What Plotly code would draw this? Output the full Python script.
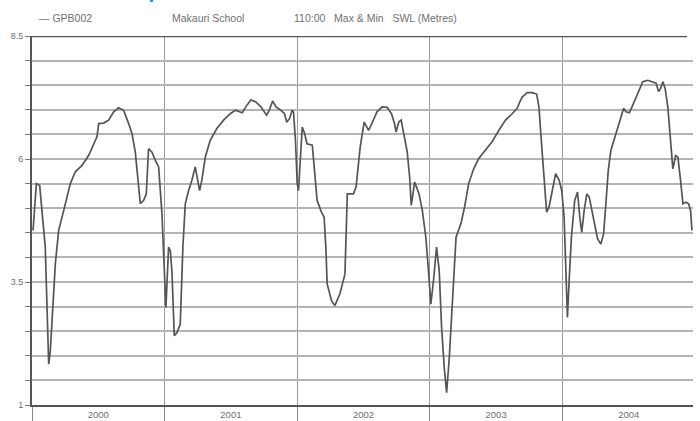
import plotly.graph_objects as go

# decimal year of each reading
years = [
    2000.008, 2000.033, 2000.058, 2000.100, 2000.126, 2000.138, 2000.176, 2000.201, 2000.239, 2000.289,
    2000.327, 2000.377, 2000.427, 2000.465, 2000.490, 2000.503, 2000.540, 2000.578, 2000.616, 2000.653,
    2000.691, 2000.729, 2000.754, 2000.779, 2000.804, 2000.817, 2000.842, 2000.862, 2000.879, 2000.905,
    2000.930, 2000.955, 2000.980, 2000.997, 2001.010, 2001.030, 2001.043, 2001.055, 2001.073, 2001.093,
    2001.118, 2001.138, 2001.156, 2001.181, 2001.206, 2001.231, 2001.251, 2001.264, 2001.281, 2001.307,
    2001.344, 2001.394, 2001.445, 2001.495, 2001.533, 2001.586, 2001.612, 2001.650, 2001.688, 2001.726,
    2001.769, 2001.789, 2001.815, 2001.840, 2001.878, 2001.904, 2001.921, 2001.942, 2001.962, 2001.972,
    2001.987, 2002.000, 2002.010, 2002.023, 2002.038, 2002.056, 2002.074, 2002.114, 2002.132, 2002.150,
    2002.183, 2002.203, 2002.216, 2002.226, 2002.259, 2002.284, 2002.322, 2002.360, 2002.378, 2002.424,
    2002.444, 2002.475, 2002.505, 2002.538, 2002.563, 2002.602, 2002.640, 2002.678, 2002.711, 2002.734,
    2002.746, 2002.766, 2002.784, 2002.805, 2002.830, 2002.848, 2002.860, 2002.886, 2002.919, 2002.944,
    2002.970, 2002.990, 2003.008, 2003.028, 2003.051, 2003.071, 2003.089, 2003.109, 2003.127, 2003.147,
    2003.173, 2003.198, 2003.236, 2003.262, 2003.293, 2003.331, 2003.369, 2003.419, 2003.470, 2003.520,
    2003.571, 2003.621, 2003.659, 2003.679, 2003.697, 2003.735, 2003.773, 2003.806, 2003.823, 2003.841,
    2003.861, 2003.881, 2003.899, 2003.924, 2003.949, 2003.975, 2003.995, 2004.013, 2004.025, 2004.038,
    2004.051, 2004.068, 2004.093, 2004.114, 2004.131, 2004.146, 2004.164, 2004.184, 2004.202, 2004.222,
    2004.240, 2004.265, 2004.290, 2004.311, 2004.328, 2004.346, 2004.366, 2004.404, 2004.442, 2004.462,
    2004.480, 2004.505, 2004.530, 2004.568, 2004.606, 2004.644, 2004.682, 2004.707, 2004.725, 2004.740,
    2004.758, 2004.775, 2004.795, 2004.816, 2004.833, 2004.854, 2004.871, 2004.891, 2004.909, 2004.934,
    2004.952, 2004.967, 2004.977,
]

# static water level (metres)
swl = [
    4.55, 5.50, 5.46, 4.21, 1.83, 2.10, 3.87, 4.55, 4.95, 5.50,
    5.74, 5.87, 6.07, 6.28, 6.45, 6.72, 6.73, 6.79, 6.96, 7.04,
    6.99, 6.72, 6.52, 6.14, 5.50, 5.09, 5.16, 5.29, 6.21, 6.14,
    5.97, 5.84, 4.89, 3.66, 2.98, 4.21, 4.14, 3.73, 2.41, 2.47,
    2.64, 4.21, 5.09, 5.36, 5.57, 5.84, 5.50, 5.36, 5.57, 6.04,
    6.38, 6.62, 6.79, 6.92, 6.99, 6.94, 7.06, 7.20, 7.16, 7.06,
    6.89, 6.99, 7.18, 7.06, 6.99, 6.92, 6.75, 6.82, 6.99, 6.96,
    6.38, 5.50, 5.36, 5.97, 6.65, 6.52, 6.31, 6.28, 5.70, 5.16,
    4.92, 4.82, 4.21, 3.46, 3.12, 3.02, 3.26, 3.66, 5.29, 5.29,
    5.43, 6.24, 6.75, 6.58, 6.72, 6.96, 7.06, 7.05, 6.92, 6.72,
    6.55, 6.75, 6.79, 6.52, 6.14, 5.63, 5.06, 5.53, 5.29, 4.95,
    4.41, 3.73, 3.05, 3.53, 4.21, 3.73, 2.58, 1.76, 1.25, 1.96,
    3.19, 4.41, 4.70, 5.02, 5.50, 5.80, 6.01, 6.18, 6.35, 6.58,
    6.79, 6.92, 7.03, 7.16, 7.26, 7.35, 7.35, 7.32, 7.06, 6.38,
    5.63, 4.92, 5.02, 5.36, 5.70, 5.57, 5.36, 4.82, 4.00, 2.78,
    3.53, 4.41, 5.16, 5.33, 4.82, 4.51, 4.95, 5.29, 5.23, 4.95,
    4.68, 4.38, 4.27, 4.48, 5.09, 5.77, 6.18, 6.52, 6.86, 7.03,
    6.96, 6.94, 7.09, 7.33, 7.57, 7.60, 7.57, 7.54, 7.37, 7.43,
    7.57, 7.43, 7.06, 6.45, 5.80, 6.07, 6.04, 5.57, 5.09, 5.12,
    5.09, 4.95, 4.55,
]

year_labels = ["2000", "2001", "2002", "2003", "2004"]
year_mids = [2000.5, 2001.5, 2002.5, 2003.5, 2004.5]
y_ticks = [1, 3.5, 6, 8.5]
y_ticktext = ["1", "3.5", "6", "8.5"]

W, H = 700, 421
L, R, T, B = 32, 7, 36, 16

fig = go.Figure()
fig.add_trace(go.Scatter(
    x=years, y=swl, mode="lines",
    line=dict(color="#555555", width=1.7),
    showlegend=False, hoverinfo="skip",
))

FAM = "Liberation Sans, Arial, sans-serif"
TXT = "#707070"
grid_c = "#b4b4b4"

fig.update_layout(
    width=W, height=H,
    margin=dict(l=L, r=R, t=T, b=B, autoexpand=False),
    paper_bgcolor="white", plot_bgcolor="white",
    font=dict(family=FAM, size=9, color=TXT),
    xaxis=dict(
        range=[2000, 2004.985], automargin=False,
        tickmode="array", tickvals=year_mids, ticktext=year_labels,
        ticks="", showgrid=False, zeroline=False,
        showline=True, linecolor="#555555", linewidth=2,
        tickfont=dict(family=FAM, size=9.5, color=TXT),
        minor=dict(tickmode="linear", tick0=2000, dtick=1, showgrid=True,
                   gridcolor="#9a9a9a", gridwidth=1,
                   ticks="outside", ticklen=16, tickcolor="#888888", tickwidth=1),
    ),
    yaxis=dict(
        range=[1, 8.5], automargin=False,
        tickmode="array", tickvals=y_ticks, ticktext=y_ticktext,
        ticks="outside", ticklen=5, tickcolor="#777777",
        showgrid=True, gridcolor=grid_c, gridwidth=1.6, zeroline=False,
        showline=True, linecolor="#555555", linewidth=2,
        tickfont=dict(family=FAM, size=9, color=TXT),
        minor=dict(tickmode="linear", tick0=1, dtick=0.5, showgrid=True,
                   gridcolor=grid_c, gridwidth=1.6,
                   ticks="outside", ticklen=5, tickcolor="#777777"),
    ),
    shapes=[
        dict(type="line", xref="paper", yref="y", x0=0, x1=(687 - L) / (W - L - R),
             y0=8.5, y1=8.5, line=dict(color="#555555", width=2.5)),
        dict(type="rect", xref="paper", yref="paper",
             x0=(150 - L) / (W - L - R), x1=(153 - L) / (W - L - R),
             y0=(H - B - 0) / (H - T - B), y1=(H - B - 2) / (H - T - B),
             fillcolor="#1a9ad6", line=dict(width=0)),
    ],
)

def px_x(p):
    return (p - L) / (W - L - R)

def px_y(p):
    return (H - B - p) / (H - T - B)

header = [
    ("— GPB002", 37),
    ("Makauri School", 170),
    ("110:00   Max &amp; Min   SWL (Metres)", 292),
]
for txt, xp in header:
    fig.add_annotation(text=txt, xref="paper", yref="paper",
                       x=px_x(xp), y=px_y(18), xanchor="left", yanchor="middle",
                       showarrow=False, font=dict(family=FAM, size=10.5, color=TXT))

fig.write_html("out.html", config={"displayModeBar": False},
               post_script="document.body.style.margin='0';document.body.style.overflow='hidden';")
